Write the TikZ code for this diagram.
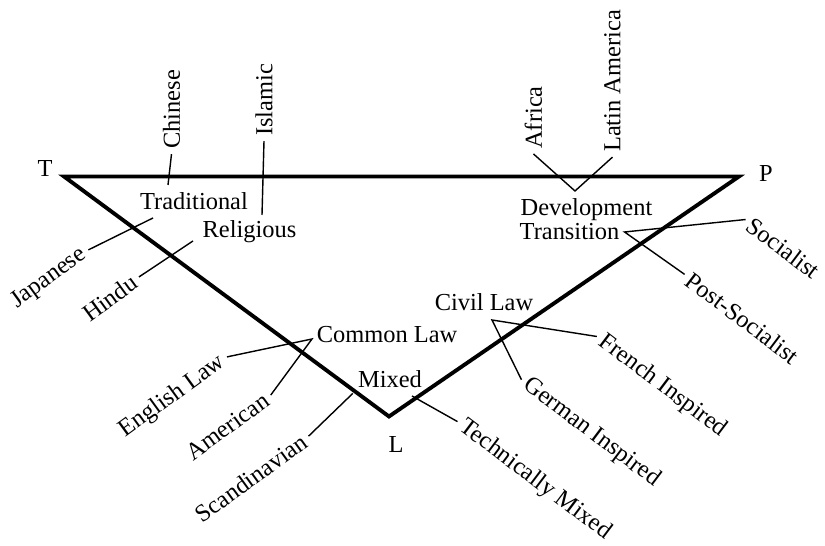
\documentclass[tikz,border=0pt]{standalone}
\usepackage{fontspec}
\setmainfont{Liberation Serif}
\usepackage{tikz}
\usetikzlibrary{positioning}

\begin{document}
\begin{tikzpicture}[
		lbl/.style={font=\fontsize{13.9}{16}\selectfont, inner sep=0pt, outer sep=3pt},
		side/.style={line width=2.2pt, line join=miter},
		twig/.style={line width=0.8pt}
	]
				\useasboundingbox (0,0) rectangle (16.5,10.92);
				
				\coordinate (T) at (1.28,7.39);
				\coordinate (P) at (14.78,7.39);
				\coordinate (L) at (7.78,2.59);
				\draw[side] (T) -- (P) -- (L) -- cycle;
				
				\node[lbl] (tlab) at (0.90,7.54) {T};
				\node[lbl] (plab) at (15.32,7.45) {P};
				\node[lbl] (llab) at (7.92,2.02) {L};
				
				\node[lbl] (traditional) at (3.88,6.89) {Traditional};
				\node[lbl] (religious) at (4.99,6.28) {Religious};
				\node[lbl] (development) at (11.73,6.73) {Development};
				\node[lbl] (transition) at (11.39,6.28) {Transition};
				\node[lbl] (common) at (7.74,4.23) {Common Law};
				\node[lbl] (civil) at (9.68,4.88) {Civil Law};
				\node[lbl] (mixed) at (7.80,3.33) {Mixed};
				
				\node[lbl, rotate=90] (chinese) at (3.43,8.73) {Chinese};
				\node[lbl, rotate=90] (islamic) at (5.28,8.92) {Islamic};
				\node[lbl, rotate=90] (africa) at (10.67,8.57) {Africa};
				\node[lbl, rotate=90] (latin) at (12.25,9.30) {Latin America};
				
				\node[lbl, rotate=36] (japanese) at (0.98,5.35) {Japanese};
				\node[lbl, rotate=36] (hindu) at (2.20,4.96) {Hindu};
				\node[lbl, rotate=36] (english) at (3.45,2.99) {English Law};
				\node[lbl, rotate=36] (american) at (4.55,2.39) {American};
				\node[lbl, rotate=36] (scandinavian) at (5.02,1.36) {Scandinavian};
				\node[lbl, rotate=-37] (techmixed) at (10.70,1.32) {Technically Mixed};
				\node[lbl, rotate=-37] (german) at (11.83,2.27) {German Inspired};
				\node[lbl, rotate=-37] (french) at (13.25,3.20) {French Inspired};
				\node[lbl, rotate=-37] (postsocialist) at (14.85,4.56) {Post-Socialist};
				\node[lbl, rotate=-37] (socialist) at (15.67,5.96) {Socialist};
				
				\coordinate (jpin) at (3.06,6.56);
				\coordinate (hiin) at (3.86,6.10);
				\coordinate (chin) at (3.36,7.22);
				\coordinate (isin) at (5.24,6.62);
				\coordinate (devv) at (11.50,7.10);
				\coordinate (civv) at (9.84,4.52);
				\coordinate (comv) at (6.24,4.14);
				\coordinate (tmin) at (8.24,3.00);
				
				\draw[twig] (japanese.east) -- (jpin);
				\draw[twig] (hindu.east) -- (hiin);
				\draw[twig] (chinese.west) -- (chin);
				\draw[twig] (islamic.west) -- (isin);
				\draw[twig] (africa.west) -- (devv) -- (latin.west);
				\draw[twig] (socialist.west) -- (transition.east) -- (postsocialist.west);
				\draw[twig] (english.east) -- (comv) -- (american.east);
				\draw[twig] (french.west) -- (civv) -- (german.west);
				\draw[twig] (scandinavian.east) -- (mixed.south west);
				\draw[twig] (techmixed.west) -- (tmin);
			\end{tikzpicture}
\end{document}
